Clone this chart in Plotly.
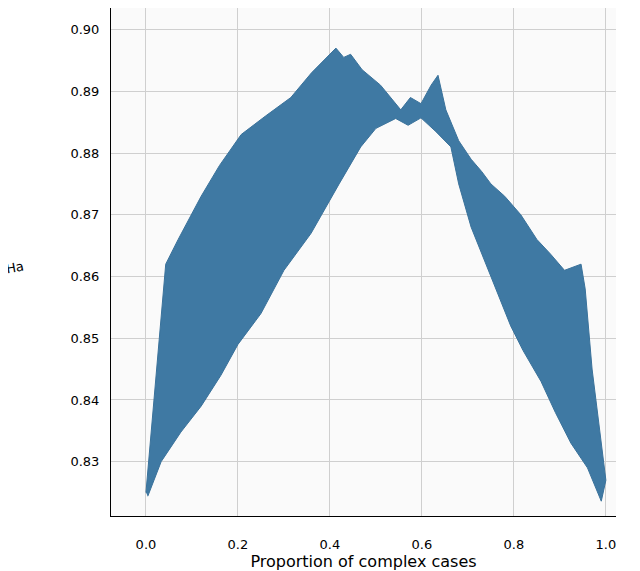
import plotly.graph_objects as go

upper_x = [0.0, 0.043, 0.07, 0.12, 0.16, 0.207, 0.26, 0.315, 0.36, 0.413, 0.43, 0.445, 0.47, 0.51, 0.554, 0.575, 0.598, 0.62, 0.635, 0.652, 0.68, 0.707, 0.73, 0.75, 0.78, 0.815, 0.85, 0.88, 0.91, 0.946, 0.955, 0.97, 1.0]
upper_y = [0.825, 0.862, 0.866, 0.873, 0.878, 0.883, 0.886, 0.889, 0.893, 0.897, 0.8955, 0.896, 0.8935, 0.891, 0.887, 0.889, 0.888, 0.891, 0.8926, 0.887, 0.882, 0.879, 0.877, 0.875, 0.873, 0.870, 0.866, 0.8636, 0.861, 0.862, 0.858, 0.845, 0.827]
lower_x = [0.99, 0.96, 0.924, 0.89, 0.859, 0.82, 0.793, 0.75, 0.707, 0.68, 0.663, 0.63, 0.598, 0.57, 0.543, 0.5, 0.467, 0.42, 0.359, 0.3, 0.25, 0.2, 0.163, 0.12, 0.076, 0.033, 0.004]
lower_y = [0.8236, 0.829, 0.833, 0.838, 0.843, 0.848, 0.852, 0.86, 0.868, 0.875, 0.881, 0.8835, 0.8857, 0.8845, 0.8856, 0.884, 0.881, 0.875, 0.867, 0.861, 0.854, 0.849, 0.844, 0.839, 0.8348, 0.83, 0.8244]

fig = go.Figure(go.Scatter(
    x=upper_x + lower_x, y=upper_y + lower_y, fill="toself", mode="lines",
    fillcolor="#3f79a3", line=dict(color="#3a729b", width=1)))

fig.update_layout(
    width=640, height=571, showlegend=False,
    margin=dict(l=103, r=32, t=0, b=63, autoexpand=False),
    paper_bgcolor="white", plot_bgcolor="#fafafa",
    font=dict(family="DejaVu Sans", size=13, color="black"),
    xaxis=dict(range=[-0.076, 1.022], tickvals=[0, 0.2, 0.4, 0.6, 0.8, 1.0],
               ticktext=["0.0", "0.2", "0.4", "0.6", "0.8", "1.0"],
               showgrid=True, gridcolor="#cfcfcf", zeroline=False,
               showline=True, linecolor="black", ticks="", ticklabelstandoff=16,
               title=dict(text="Proportion of complex cases", standoff=0)),
    yaxis=dict(range=[0.8212, 0.9035], tickvals=[0.83, 0.84, 0.85, 0.86, 0.87, 0.88, 0.89, 0.90],
               ticktext=["0.83", "0.84", "0.85", "0.86", "0.87", "0.88", "0.89", "0.90"],
               showgrid=True, gridcolor="#cfcfcf", zeroline=False,
               showline=True, linecolor="black", ticks="", ticklabelstandoff=8),
)
fig.add_annotation(text="Ha", xref="paper", yref="paper", x=-0.19, y=0.49,
                   showarrow=False, textangle=-10, xanchor="center")
fig.write_html("out.html")
